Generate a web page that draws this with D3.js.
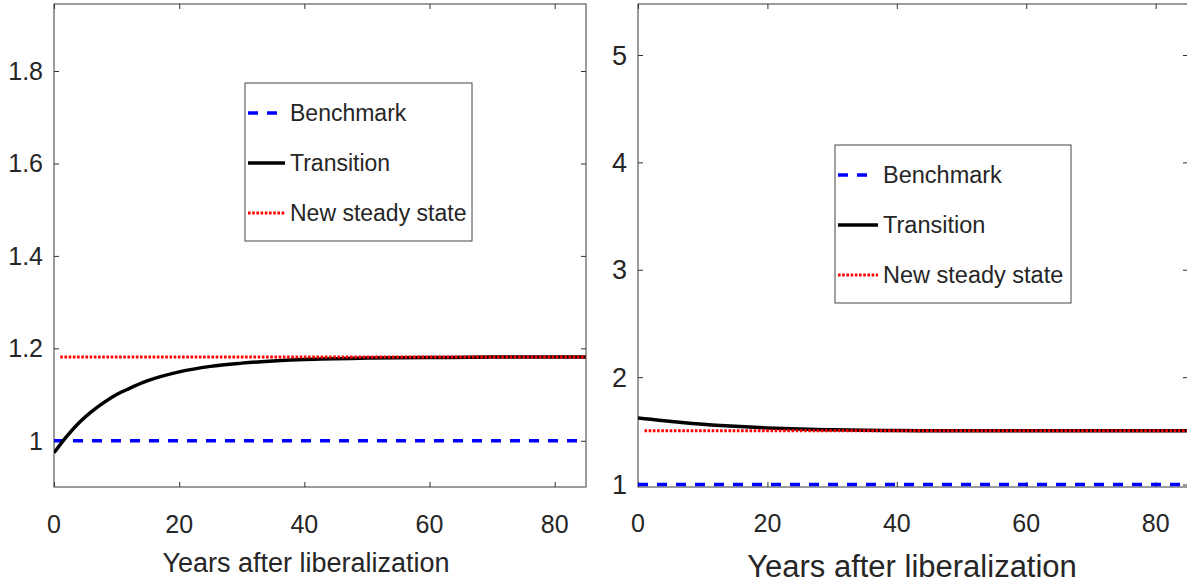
<!DOCTYPE html>
<html>
<head>
<meta charset="utf-8">
<script src="https://cdn.jsdelivr.net/npm/d3@7"></script>
<style>
  body { margin: 0; background: #fff; }
  text { font-family: "Liberation Sans", Arial, sans-serif; fill: #262626; }
</style>
</head>
<body>
<script>
// data
const years = [0, 2, 4, 6, 8, 10, 12, 15, 20, 25, 30, 40, 50, 60, 70, 85];
const transitionLeft = [0.974, 1.009, 1.039, 1.063, 1.083, 1.100, 1.113, 1.130, 1.149, 1.161, 1.168, 1.176, 1.179, 1.180, 1.181, 1.181];
const transitionRight = [1.62, 1.607, 1.594, 1.582, 1.571, 1.561, 1.553, 1.542, 1.527, 1.516, 1.509, 1.503, 1.501, 1.500, 1.500, 1.500];
const benchYears = [0, 85];
const benchmark = [1, 1];
const steadyYears = [1, 85];
const steadyLeft = [1.181, 1.181];
const steadyRight = [1.50, 1.50];
const xTicks = [0, 20, 40, 60, 80];
const yTicksLeft = [1, 1.2, 1.4, 1.6, 1.8];
const yTicksRight = [1, 2, 3, 4, 5];
const legendLabels = ["Benchmark", "Transition", "New steady state"];

const W = 1187, H = 586;
const svg = d3.select("body").append("svg")
    .attr("width", W)
    .attr("height", H);

const styles = [
  {stroke: "#0000ff", width: 3.5, dash: "10,9"},
  {stroke: "#000000", width: 3.5, dash: null},
  {stroke: "#ff0000", width: 3, dash: "2.6,1.6"}
];

function panel(cfg) {
  const x = d3.scaleLinear().domain([0, 85]).range([cfg.left, cfg.right]);
  const y = d3.scaleLinear().domain(cfg.yDomain).range([487, 4]);
  const g = svg.append("g");

  const clipId = "clip" + cfg.left;
  svg.append("clipPath").attr("id", clipId)
    .append("rect")
    .attr("x", cfg.left).attr("y", 4)
    .attr("width", cfg.right - cfg.left).attr("height", 483);

  // box
  g.append("rect")
    .attr("x", cfg.left).attr("y", 4)
    .attr("width", cfg.right - cfg.left).attr("height", 483)
    .attr("fill", "none").attr("stroke", "#5a5a5a").attr("stroke-width", 1.2);

  // inward ticks on all four sides
  const tickStyle = sel => {
    sel.select(".domain").remove();
    sel.selectAll(".tick line").attr("stroke", "#333");
  };
  g.append("g").attr("transform", `translate(0,487)`)
    .call(d3.axisBottom(x).tickValues(xTicks).tickSize(-5).tickFormat(""))
    .call(tickStyle);
  g.append("g").attr("transform", `translate(0,4)`)
    .call(d3.axisTop(x).tickValues(xTicks).tickSize(-5).tickFormat(""))
    .call(tickStyle);
  g.append("g").attr("transform", `translate(${cfg.left},0)`)
    .call(d3.axisLeft(y).tickValues(cfg.yTicks).tickSize(-5).tickFormat(""))
    .call(tickStyle);
  g.append("g").attr("transform", `translate(${cfg.right},0)`)
    .call(d3.axisRight(y).tickValues(cfg.yTicks).tickSize(-5).tickFormat(""))
    .call(tickStyle);

  // tick labels
  g.selectAll(".xl").data(xTicks).enter().append("text")
    .attr("x", d => x(d)).attr("y", cfg.xTickY)
    .attr("text-anchor", "middle")
    .style("font-size", cfg.tickFont + "px")
    .text(d => d);
  g.selectAll(".yl").data(cfg.yTicks).enter().append("text")
    .attr("x", cfg.left - 11).attr("y", d => y(d))
    .attr("dy", "0.36em")
    .attr("text-anchor", "end")
    .style("font-size", cfg.yTickFont + "px")
    .text(d => d3.format("~g")(d));

  // x axis label
  g.append("text")
    .attr("x", cfg.labelX).attr("y", cfg.labelY)
    .attr("text-anchor", "middle")
    .style("font-size", cfg.labelFont + "px")
    .text("Years after liberalization");

  // lines
  const line = d3.line().x(d => x(d[0])).y(d => y(d[1])).curve(d3.curveMonotoneX);
  const lines = g.append("g").attr("clip-path", `url(#${clipId})`);
  const series = [
    d3.zip(benchYears, benchmark),
    d3.zip(years, cfg.transition),
    d3.zip(steadyYears, cfg.steady)
  ];
  series.forEach((s, i) => {
    lines.append("path")
      .datum(s)
      .attr("d", line)
      .attr("fill", "none")
      .attr("stroke", styles[i].stroke)
      .attr("stroke-width", styles[i].width)
      .attr("stroke-dasharray", styles[i].dash);
  });

  // legend
  const lg = g.append("g");
  lg.append("rect")
    .attr("x", cfg.legend.x).attr("y", cfg.legend.y)
    .attr("width", cfg.legend.w).attr("height", cfg.legend.h)
    .attr("fill", "#fff").attr("stroke", "#444").attr("stroke-width", 1);
  legendLabels.forEach((lab, i) => {
    const cy = cfg.legend.y + 30 + i * 50;
    const len = i === 0 ? 32 : cfg.legend.sample;
    lg.append("line")
      .attr("x1", cfg.legend.x + 3).attr("x2", cfg.legend.x + len)
      .attr("y1", cy).attr("y2", cy)
      .attr("stroke", styles[i].stroke)
      .attr("stroke-width", styles[i].width)
      .attr("stroke-dasharray", styles[i].dash);
    lg.append("text")
      .attr("x", cfg.legend.x + cfg.legend.sample + 5).attr("y", cy)
      .attr("dy", "0.36em")
      .style("font-size", cfg.legend.font + "px")
      .text(lab);
  });
}

panel({
  left: 54, right: 586,
  yDomain: [0.9, 1.945],
  yTicks: yTicksLeft,
  transition: transitionLeft,
  steady: steadyLeft,
  tickFont: 25, yTickFont: 25, labelFont: 27, labelX: 306, labelY: 572, xTickY: 533,
  legend: {x: 245, y: 83, w: 227, h: 158, sample: 40, font: 23}
});

panel({
  left: 638, right: 1188,
  yDomain: [0.977, 5.475],
  yTicks: yTicksRight,
  transition: transitionRight,
  steady: steadyRight,
  tickFont: 25, yTickFont: 27, labelFont: 31, labelX: 912, labelY: 577, xTickY: 532,
  legend: {x: 835, y: 145, w: 236, h: 158, sample: 43, font: 23.5}
});
</script>
</body>
</html>
